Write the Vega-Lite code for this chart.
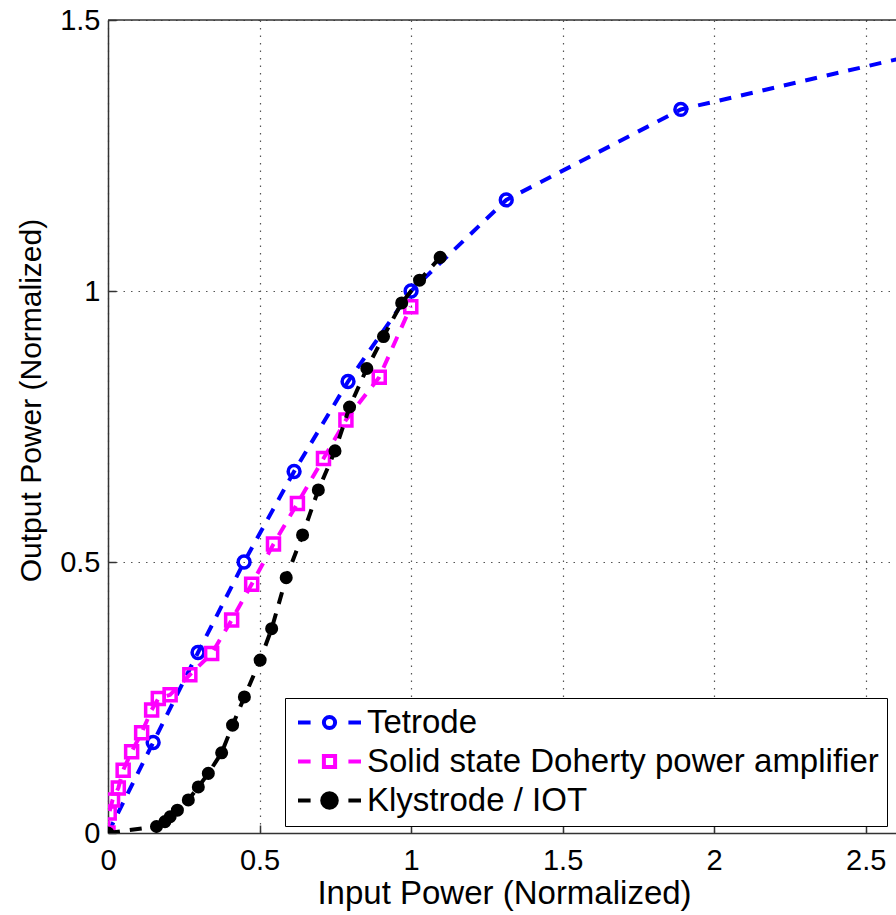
{
  "$schema": "https://vega.github.io/schema/vega-lite/v6.json",
  "width": 788,
  "height": 813,
  "autosize": {"type": "none"},
  "padding": {"left": 108, "top": 20, "right": 0, "bottom": 82},
  "background": "white",
  "config": {
    "view": {"stroke": null},
    "font": "Liberation Sans",
    "axis": {
      "domainColor": "#333333", "domainWidth": 1.5,
      "tickColor": "#333333", "tickWidth": 1.5, "tickSize": -8,
      "labelFont": "Liberation Sans", "labelFontSize": 29, "labelColor": "black",
      "titleFont": "Liberation Sans", "titleFontSize": 33, "titleFontWeight": "normal", "titleColor": "black",
      "gridColor": "#555555", "gridDash": [1.5, 6], "gridWidth": 1.2,
      "labelFlush": false, "labelOverlap": false
    }
  },
  "data": {"values": [
    {"series": "Tetrode", "x": 0, "y": 0},
    {"series": "Tetrode", "x": 0.149, "y": 0.167},
    {"series": "Tetrode", "x": 0.297, "y": 0.333},
    {"series": "Tetrode", "x": 0.449, "y": 0.5},
    {"series": "Tetrode", "x": 0.614, "y": 0.667},
    {"series": "Tetrode", "x": 0.792, "y": 0.833},
    {"series": "Tetrode", "x": 1.0, "y": 1.0},
    {"series": "Tetrode", "x": 1.314, "y": 1.168},
    {"series": "Tetrode", "x": 1.89, "y": 1.335},
    {"series": "Tetrode", "x": 3.16, "y": 1.5},
    {"series": "Solid state Doherty power amplifier", "x": 0, "y": 0},
    {"series": "Solid state Doherty power amplifier", "x": 0.004, "y": 0.037},
    {"series": "Solid state Doherty power amplifier", "x": 0.015, "y": 0.061},
    {"series": "Solid state Doherty power amplifier", "x": 0.034, "y": 0.083},
    {"series": "Solid state Doherty power amplifier", "x": 0.05, "y": 0.116},
    {"series": "Solid state Doherty power amplifier", "x": 0.078, "y": 0.15},
    {"series": "Solid state Doherty power amplifier", "x": 0.111, "y": 0.185},
    {"series": "Solid state Doherty power amplifier", "x": 0.144, "y": 0.227},
    {"series": "Solid state Doherty power amplifier", "x": 0.166, "y": 0.248},
    {"series": "Solid state Doherty power amplifier", "x": 0.205, "y": 0.255},
    {"series": "Solid state Doherty power amplifier", "x": 0.27, "y": 0.292},
    {"series": "Solid state Doherty power amplifier", "x": 0.342, "y": 0.331},
    {"series": "Solid state Doherty power amplifier", "x": 0.408, "y": 0.393},
    {"series": "Solid state Doherty power amplifier", "x": 0.474, "y": 0.459},
    {"series": "Solid state Doherty power amplifier", "x": 0.546, "y": 0.533},
    {"series": "Solid state Doherty power amplifier", "x": 0.625, "y": 0.608},
    {"series": "Solid state Doherty power amplifier", "x": 0.711, "y": 0.691},
    {"series": "Solid state Doherty power amplifier", "x": 0.785, "y": 0.762},
    {"series": "Solid state Doherty power amplifier", "x": 0.895, "y": 0.841},
    {"series": "Solid state Doherty power amplifier", "x": 0.999, "y": 0.971},
    {"series": "Klystrode / IOT", "x": 0, "y": 0},
    {"series": "Klystrode / IOT", "x": 0.16, "y": 0.012},
    {"series": "Klystrode / IOT", "x": 0.188, "y": 0.021},
    {"series": "Klystrode / IOT", "x": 0.205, "y": 0.03},
    {"series": "Klystrode / IOT", "x": 0.229, "y": 0.042},
    {"series": "Klystrode / IOT", "x": 0.265, "y": 0.061},
    {"series": "Klystrode / IOT", "x": 0.298, "y": 0.085},
    {"series": "Klystrode / IOT", "x": 0.331, "y": 0.11},
    {"series": "Klystrode / IOT", "x": 0.375, "y": 0.148},
    {"series": "Klystrode / IOT", "x": 0.411, "y": 0.199},
    {"series": "Klystrode / IOT", "x": 0.45, "y": 0.251},
    {"series": "Klystrode / IOT", "x": 0.502, "y": 0.319},
    {"series": "Klystrode / IOT", "x": 0.54, "y": 0.377},
    {"series": "Klystrode / IOT", "x": 0.588, "y": 0.471},
    {"series": "Klystrode / IOT", "x": 0.642, "y": 0.55},
    {"series": "Klystrode / IOT", "x": 0.694, "y": 0.633},
    {"series": "Klystrode / IOT", "x": 0.749, "y": 0.705},
    {"series": "Klystrode / IOT", "x": 0.797, "y": 0.786},
    {"series": "Klystrode / IOT", "x": 0.854, "y": 0.857},
    {"series": "Klystrode / IOT", "x": 0.909, "y": 0.916},
    {"series": "Klystrode / IOT", "x": 0.969, "y": 0.978},
    {"series": "Klystrode / IOT", "x": 1.028, "y": 1.02},
    {"series": "Klystrode / IOT", "x": 1.096, "y": 1.062}
  ]},
  "layer": [
    {
      "transform": [{"filter": "datum.series === 'Tetrode'"}],
      "mark": {"type": "line", "color": "#0000ff", "strokeWidth": 4, "strokeDash": [12, 10], "clip": true},
      "encoding": {
        "x": {"field": "x", "type": "quantitative", "scale": {"domain": [0, 2.6], "nice": false, "zero": false},
              "axis": {"values": [0, 0.5, 1, 1.5, 2, 2.5], "format": "~g", "title": "Input Power (Normalized)", "labelPadding": 21, "grid": true, "titleX": 396, "titleY": 70, "titleBaseline": "alphabetic"}},
        "y": {"field": "y", "type": "quantitative", "scale": {"domain": [0, 1.5], "nice": false, "zero": false},
              "axis": {"values": [0, 0.5, 1, 1.5], "format": "~g", "title": "Output Power (Normalized)", "titleFontSize": 30, "labelPadding": 16, "grid": true, "titleX": -68, "titleY": 380, "titleBaseline": "alphabetic"}}
      }
    },
    {
      "transform": [{"filter": "datum.series === 'Tetrode'"}],
      "mark": {"type": "point", "shape": "circle", "filled": false, "stroke": "#0000ff", "strokeWidth": 3.5, "size": 140, "opacity": 1, "clip": true},
      "encoding": {
        "x": {"field": "x", "type": "quantitative"},
        "y": {"field": "y", "type": "quantitative"}
      }
    },
    {
      "transform": [{"filter": "datum.series === 'Solid state Doherty power amplifier'"}],
      "mark": {"type": "line", "color": "#ff00ff", "strokeWidth": 4, "strokeDash": [12, 10], "clip": true},
      "encoding": {
        "x": {"field": "x", "type": "quantitative"},
        "y": {"field": "y", "type": "quantitative"}
      }
    },
    {
      "transform": [{"filter": "datum.series === 'Solid state Doherty power amplifier'"}],
      "mark": {"type": "point", "shape": "square", "filled": false, "stroke": "#ff00ff", "strokeWidth": 3.5, "size": 144, "opacity": 1, "clip": true},
      "encoding": {
        "x": {"field": "x", "type": "quantitative"},
        "y": {"field": "y", "type": "quantitative"}
      }
    },
    {
      "transform": [{"filter": "datum.series === 'Klystrode / IOT'"}],
      "mark": {"type": "line", "color": "#000000", "strokeWidth": 4, "strokeDash": [12, 10], "clip": true},
      "encoding": {
        "x": {"field": "x", "type": "quantitative"},
        "y": {"field": "y", "type": "quantitative"}
      }
    },
    {
      "transform": [{"filter": "datum.series === 'Klystrode / IOT'"}],
      "mark": {"type": "point", "shape": "circle", "filled": true, "fill": "#000000", "size": 170, "opacity": 1, "clip": true},
      "encoding": {
        "x": {"field": "x", "type": "quantitative"},
        "y": {"field": "y", "type": "quantitative"}
      }
    },
    {
      "mark": {"type": "point", "opacity": 0, "strokeWidth": 4, "clip": true},
      "encoding": {
        "x": {"field": "x", "type": "quantitative"},
        "y": {"field": "y", "type": "quantitative"},
        "shape": {"field": "series", "type": "nominal",
          "scale": {"domain": ["Tetrode", "Solid state Doherty power amplifier", "Klystrode / IOT"],
                    "range": ["M-2.25,0H-1.35M1.35,0H2.25M-0.4,0A0.4,0.4,0,1,0,0.4,0A0.4,0.4,0,1,0,-0.4,0Z",
                              "M-2.25,0H-1.35M1.35,0H2.25M-0.4,-0.4H0.4V0.4H-0.4Z",
                              "M-2.25,0H-1.35M1.35,0H2.25M-0.52,0A0.52,0.52,0,1,0,0.52,0A0.52,0.52,0,1,0,-0.52,0Z"]},
          "legend": {"orient": "none", "legendX": 177, "legendY": 678, "title": null, "padding": 8,
                     "strokeColor": "black", "fillColor": "white",
                     "labelFont": "Liberation Sans", "labelFontSize": 33, "labelColor": "black", "labelLimit": 0,
                     "symbolOffset": 20, "labelOffset": 21, "rowPadding": 5, "symbolSize": 784, "symbolStrokeWidth": 4,
                     "symbolOpacity": 1, "labelBaseline": "middle",
                     "encode": {"symbols": {"update": {"opacity": {"value": 1}}}}}},
        "stroke": {"field": "series", "type": "nominal",
          "scale": {"domain": ["Tetrode", "Solid state Doherty power amplifier", "Klystrode / IOT"], "range": ["#0000ff", "#ff00ff", "#000000"]}},
        "fill": {"field": "series", "type": "nominal",
          "scale": {"domain": ["Tetrode", "Solid state Doherty power amplifier", "Klystrode / IOT"], "range": ["transparent", "transparent", "#000000"]}}
      }
    },
    {
      "data": {"values": [{}]},
      "mark": {"type": "rule", "color": "#333333", "strokeWidth": 1.5},
      "encoding": {"y": {"datum": 1.5, "type": "quantitative"}}
    }
  ]
}
